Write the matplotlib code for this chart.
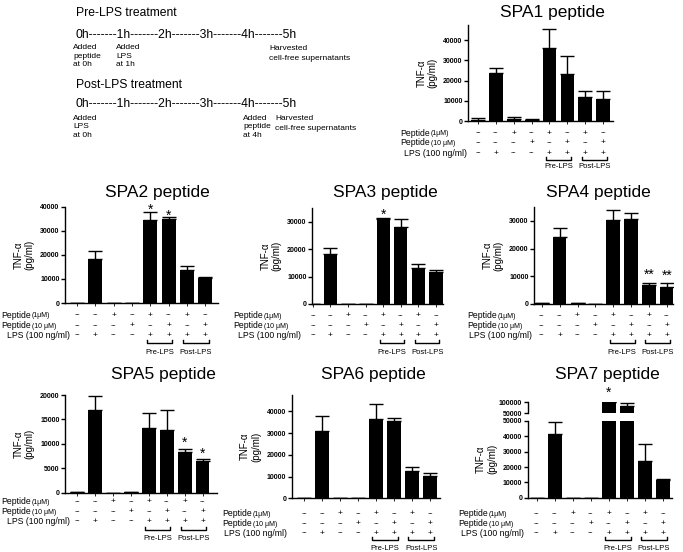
import numpy as np
import matplotlib.pyplot as plt
from matplotlib.transforms import blended_transform_factory

plt.rcParams['font.family'] = ['Liberation Sans', 'DejaVu Sans']

W, H = 683, 552

# TNF-alpha (pg/ml), mean and upper SEM for the 8 conditions of each panel
spa1_mean = [500, 24000, 1000, 500, 36000, 23500, 12000, 11000]
spa1_err = [800, 2500, 1000, 300, 9500, 8500, 3000, 4000]
spa2_mean = [0, 18200, 0, 0, 34500, 35000, 13500, 10300]
spa2_err = [0, 3300, 0, 0, 3500, 700, 1800, 700]
spa3_mean = [0, 18200, 0, 0, 31000, 28000, 13200, 11500]
spa3_err = [0, 2300, 0, 0, 200, 3000, 1300, 800]
spa4_mean = [300, 24300, 300, 0, 30200, 30500, 6700, 6200]
spa4_err = [0, 3000, 0, 0, 3800, 2200, 1000, 1200]
spa5_mean = [100, 17000, 0, 100, 13200, 12900, 8300, 6400]
spa5_err = [0, 2800, 0, 0, 3200, 4100, 700, 500]
spa6_mean = [0, 31000, 0, 0, 36500, 35500, 12700, 10500]
spa6_err = [0, 6700, 0, 0, 7000, 1700, 1800, 1100]
spa7_mean = [0, 41500, 0, 0, 100000, 83000, 24000, 11300]
spa7_err = [0, 8000, 0, 0, 0, 12000, 11000, 1200]

# stars: (bar index, symbol)
spa2_stars = [(4, '*'), (5, '*')]
spa3_stars = [(4, '*')]
spa4_stars = [(6, '**'), (7, '**')]
spa5_stars = [(6, '*'), (7, '*')]
spa7_stars = [(4, '*')]

# treatment table under the bars
pep1_row = ['--', '--', '+', '--', '+', '--', '+', '--']
pep10_row = ['--', '--', '--', '+', '--', '+', '--', '+']
lps_row = ['--', '+', '--', '--', '+', '+', '+', '+']
groups = ['Pre-LPS', 'Post-LPS']

x = np.arange(8)
fig = plt.figure(figsize=(W / 100, H / 100), dpi=100)
renderer = fig.canvas.get_renderer()


def fy(py):
    return 1 - py / H


def px_axes(left, top, right, bottom):
    return fig.add_axes([left / W, 1 - bottom / H, (right - left) / W, (bottom - top) / H])


def style(ax, yticks, ylim, xlim, bottom_spine=True):
    ax.set_ylim(*ylim)
    ax.set_xlim(*xlim)
    ax.set_yticks(yticks)
    ax.set_yticklabels([str(t) for t in yticks], fontsize=5, fontweight='bold')
    ax.spines['top'].set_visible(False)
    ax.spines['right'].set_visible(False)
    ax.spines['left'].set_linewidth(1.0)
    ax.spines['bottom'].set_linewidth(1.0)
    ax.spines['bottom'].set_visible(bottom_spine)
    ax.tick_params(axis='y', length=3, width=1.0, pad=1)
    ax.set_xticks(x)
    ax.set_xticklabels([])
    ax.tick_params(axis='x', length=2, width=0.6)
    ax.patch.set_alpha(0)


def bars(ax, means, errs, floor=None):
    ax.bar(x, means, width=0.76, color='black', zorder=2)
    means = np.array(means)
    errs = np.array(errs)
    keep = np.ones(8, bool) if floor is None else (means + errs) > floor
    ax.errorbar(x[keep], means[keep], yerr=[np.zeros(keep.sum()), errs[keep]], fmt='none',
                ecolor='black', elinewidth=1.0, capsize=5, capthick=1.0, zorder=1)


def stars(ax, means, errs, marks, dy=1):
    for i, s in marks:
        ax.annotate(s, (x[i], means[i] + errs[i]), xytext=(0, dy), textcoords='offset points',
                    ha='center', va='bottom', fontsize=10)


def row_label(px, py, main, small):
    t = fig.text(px / W, fy(py), main, ha='left', va='center', fontsize=6.2)
    bb = t.get_window_extent(renderer)
    fig.text((bb.x1 + 1) / W, fy(py + 0.5), small, ha='left', va='center', fontsize=5)


def table(ax, rows_y, label_x, labels, bracket_y, group_y):
    tr = blended_transform_factory(ax.transData, fig.transFigure)
    for row, py in zip([pep1_row, pep10_row, lps_row], rows_y):
        for xi, s in zip(x, row):
            ax.text(xi, fy(py), s, transform=tr, ha='center', va='center', fontsize=6)
    for lx, (main, small), py in zip(label_x, labels[:2], rows_y[:2]):
        row_label(lx, py, main, small)
    fig.text(label_x[2] / W, fy(rows_y[2]), labels[2], ha='left', va='center', fontsize=6.2)
    for (a, b), g in zip([(4, 5), (6, 7)], groups):
        ax.plot([a - 0.2, a - 0.2, b + 0.2, b + 0.2],
                [fy(bracket_y - 3), fy(bracket_y), fy(bracket_y), fy(bracket_y - 3)],
                transform=tr, color='black', lw=1.0, clip_on=False)
        ax.text((a + b) / 2, fy(group_y), g, transform=tr, ha='center', va='center', fontsize=5.5)


def ylab(ax, pad=4):
    ax.set_ylabel('TNF-α\n(pg/ml)', fontsize=7, labelpad=pad, linespacing=1.1)


def title(px, py, s):
    fig.text(px / W, fy(py), s, fontsize=12.5, ha='center', va='center')


# ---- timeline text ----
tl = '0h-------1h-------2h-------3h-------4h-------5h'
fig.text(76 / W, fy(13), 'Pre-LPS treatment', fontsize=8.7, va='center')
fig.text(76 / W, fy(35), tl, fontsize=8.7, va='center')
fig.text(73 / W, fy(44), 'Added\npeptide\nat 0h', fontsize=6, va='top', linespacing=1.3)
fig.text(116 / W, fy(44), 'Added\nLPS\nat 1h', fontsize=6, va='top', linespacing=1.3)
fig.text(269 / W, fy(45), 'Harvested\ncell-free supernatants', fontsize=6, va='top', linespacing=1.6)
fig.text(76 / W, fy(85), 'Post-LPS treatment', fontsize=8.7, va='center')
fig.text(76 / W, fy(104), tl, fontsize=8.7, va='center')
fig.text(73 / W, fy(115), 'Added\nLPS\nat 0h', fontsize=6, va='top', linespacing=1.3)
fig.text(243 / W, fy(115), 'Added\npeptide\nat 4h', fontsize=6, va='top', linespacing=1.3)
fig.text(275 / W, fy(115), 'Harvested\ncell-free supernatants', fontsize=6, va='top', linespacing=1.6)

lab_a = [('Peptide', '(1μM)'), ('Peptide', '(10 μM)'), 'LPS (100 ng/ml)']

# ---- SPA1 ----
ax = px_axes(468, 25, 613, 121)
bars(ax, spa1_mean, spa1_err)
style(ax, [0, 10000, 20000, 30000, 40000], (0, 47600), (-0.56, 7.56))
ylab(ax)
table(ax, [133, 143, 153], [400, 400, 404], lab_a, 160, 167)
title(552, 12, 'SPA1 peptide')

# ---- SPA2 ----
ax = px_axes(65, 206.7, 218, 303)
bars(ax, spa2_mean, spa2_err)
style(ax, [0, 10000, 20000, 30000, 40000], (0, 40000), (-0.66, 7.7))
ylab(ax)
stars(ax, spa2_mean, spa2_err, spa2_stars, dy=-4)
table(ax, [315, 325.5, 335], [1, 1, 7], lab_a, 343, 352)
title(157, 193, 'SPA2 peptide')

# ---- SPA3 ----
ax = px_axes(312, 208, 443, 304)
bars(ax, spa3_mean, spa3_err)
style(ax, [0, 10000, 20000, 30000], (0, 35000), (-0.05, 7.4))
ylab(ax)
stars(ax, spa3_mean, spa3_err, spa3_stars, dy=-2.5)
table(ax, [315.5, 325.5, 335], [233, 233, 238], lab_a, 343, 352)
title(385, 193, 'SPA3 peptide')

# ---- SPA4 ----
ax = px_axes(534, 207, 673, 304)
bars(ax, spa4_mean, spa4_err)
style(ax, [0, 10000, 20000, 30000], (0, 35000), (-0.44, 7.35))
ylab(ax)
stars(ax, spa4_mean, spa4_err, spa4_stars, dy=0.5)
table(ax, [315.5, 325.5, 335], [467, 467, 469], lab_a, 343, 352)
title(598, 193, 'SPA4 peptide')

# ---- SPA5 ----
ax = px_axes(65, 395, 217, 492.7)
bars(ax, spa5_mean, spa5_err)
style(ax, [0, 5000, 10000, 15000, 20000], (0, 20000), (-0.69, 7.8))
ylab(ax)
stars(ax, spa5_mean, spa5_err, spa5_stars, dy=-1)
table(ax, [502, 512, 521], [1, 1, 7], lab_a, 530, 538)
title(163, 375, 'SPA5 peptide')

# ---- SPA6 ----
ax = px_axes(291.7, 395, 440, 498.3)
bars(ax, spa6_mean, spa6_err)
style(ax, [0, 10000, 20000, 30000, 40000], (0, 47600), (-0.68, 7.55))
ylab(ax)
table(ax, [514, 523.5, 533], [222, 222, 224], lab_a, 540, 548)
title(373, 375, 'SPA6 peptide')

# ---- SPA7 (broken axis) ----
ax_up = px_axes(527.7, 402.3, 672, 413.3)
bars(ax_up, spa7_mean, spa7_err, floor=50000)
style(ax_up, [50000, 100000], (50000, 100000), (-0.5, 7.5), bottom_spine=False)
ax_up.tick_params(axis='x', length=0)
stars(ax_up, spa7_mean, spa7_err, spa7_stars, dy=1.5)

ax = px_axes(527.7, 421, 672, 497.7)
bars(ax, spa7_mean, spa7_err)
style(ax, [0, 10000, 20000, 30000, 40000, 50000], (0, 50000), (-0.5, 7.5))
ylab(ax)
table(ax, [514, 524, 533], [458, 458, 461], lab_a, 540, 548)
title(607, 375, 'SPA7 peptide')

fig.savefig('out.png', dpi=100)
